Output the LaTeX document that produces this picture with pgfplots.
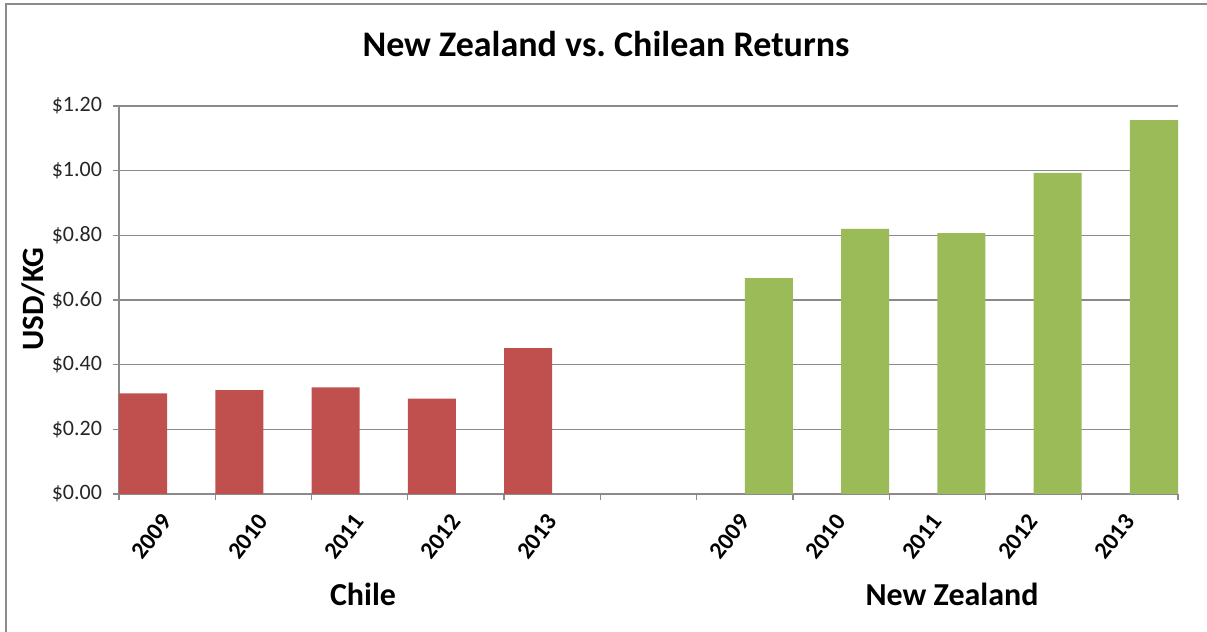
\documentclass[border=0pt]{standalone}
\usepackage{pgfplots}
\pgfplotsset{compat=1.18}
\usepackage{fontspec}
\setmainfont{Carlito}
\definecolor{chile}{HTML}{C0504D}
\definecolor{nz}{HTML}{9BBB59}
\definecolor{gridc}{HTML}{8A8A8A}
\definecolor{framec}{HTML}{8C8C8C}
\begin{document}
\begin{tikzpicture}[x=1pt,y=1pt]
\useasboundingbox (0,0) rectangle (603.5,316);
\draw[framec, line width=1pt] (3,0) -- (3,314) -- (603.5,314);
\begin{axis}[
  at={(59.5pt,69pt)}, anchor=south west,
  scale only axis, width=529.5pt, height=194pt,
  xmin=-0.5, xmax=10.5, ymin=0, ymax=1.2,
  axis x line*=bottom, axis y line*=left,
  axis line style={gridc, line width=0.6pt},
  ybar, bar width=0.5,
  xtick={0,1,2,3,4,6,7,8,9,10},
  xticklabels={2009,2010,2011,2012,2013,2009,2010,2011,2012,2013},
  major x tick style={draw=none},
  minor xtick={-0.5,0.5,...,10.5},
  minor x tick style={gridc, line width=0.6pt},
  minor tick length=3pt,
  ytick={0,0.2,0.4,0.6,0.8,1.0,1.2},
  yticklabels={\$0.00,\$0.20,\$0.40,\$0.60,\$0.80,\$1.00,\$1.20},
  major y tick style={gridc, line width=0.6pt},
  major tick length=3pt,
  tick align=outside,
  ymajorgrids, grid style={gridc, line width=0.6pt},
  yticklabel style={font=\fontsize{11}{13}\selectfont, color=black!85, xshift=-2pt},
  xticklabel style={font=\fontsize{12}{14}\selectfont\bfseries, yshift=-6pt, xshift=2pt, rotate=52, anchor=east, color=black},
  /pgf/number format/assume math mode=true,
  clip=false,
]
\addplot[ybar, bar shift=-0.25, fill=chile, draw=none] coordinates {(0,0.311) (1,0.321) (2,0.330) (3,0.295) (4,0.451)};
\addplot[ybar, bar shift=0.25, fill=nz, draw=none] coordinates {(6,0.668) (7,0.820) (8,0.807) (9,0.993) (10,1.156)};
\end{axis}
\node[anchor=base, font=\fontsize{18}{21}\selectfont\bfseries] at (303,287.5) {New Zealand vs.\ Chilean Returns};
\node[rotate=90, font=\fontsize{15.5}{18}\selectfont\bfseries] at (16.5,166.5) {USD/KG};
\node[anchor=base, font=\fontsize{16}{19}\selectfont\bfseries] at (181.5,13) {Chile};
\node[anchor=base, font=\fontsize{16}{19}\selectfont\bfseries] at (476,13) {New Zealand};
\end{tikzpicture}
\end{document}
